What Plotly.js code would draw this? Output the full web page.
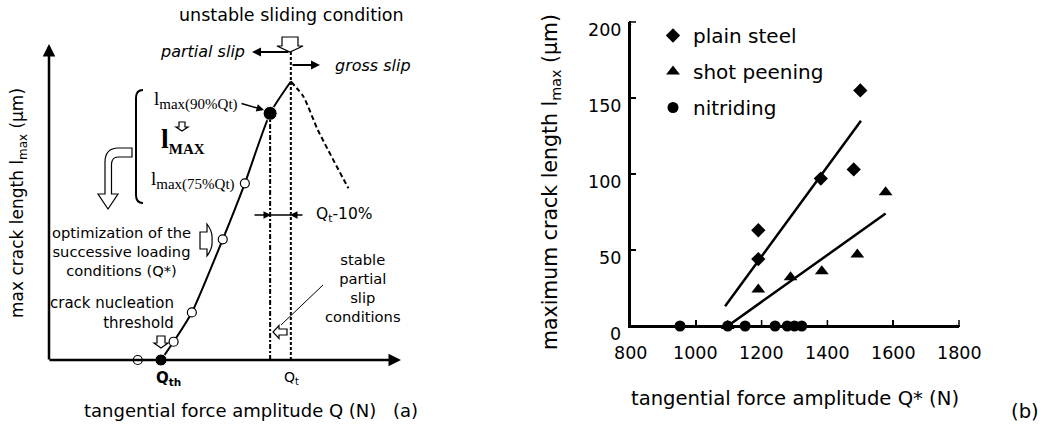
<!DOCTYPE html>
<html><head><meta charset="utf-8">
<script src="https://cdn.plot.ly/plotly-3.0.1.min.js"></script>
<style>html,body{margin:0;padding:0;background:#fff}#chart{width:1050px;height:425px}</style>
</head><body><div id="chart"></div>
<script>
// ---------- panel (b) data ----------
const steelQ = [1190, 1190, 1380, 1480, 1500];
const steelL = [63, 44, 97, 103, 155];
const peenQ = [1097, 1190, 1288, 1383, 1491, 1577];
const peenL = [0, 24, 32, 36, 47, 88];
const nitrQ = [952, 1097, 1150, 1241, 1278, 1300, 1322];
const nitrL = [0, 0, 0, 0, 0, 0, 0];
const steelFitQ = [1089, 1502];
const steelFitL = [13, 135];
const peenFitQ = [1097, 1577];
const peenFitL = [0, 74];
const xTicks = [800, 1000, 1200, 1400, 1600, 1800];
const yTicks = [0, 50, 100, 150, 200];
const seriesNames = ['plain steel', 'shot peening', 'nitriding'];

// ---------- panel (a) schematic data (normalised units) ----------
const curveQ = [31.9, 35.5, 40.7, 49.5, 55.8, 63.0, 68.9];
const curveL = [0, 5.8, 15.1, 38.3, 56.1, 78.3, 88.4];
const grossQ = [68.9, 72.5, 76.6, 85.3];
const grossL = [88.4, 83.6, 73.0, 54.5];
const openQ = [25.3, 35.5, 40.7, 49.5, 55.8];
const openL = [0, 5.8, 15.1, 38.3, 56.1];
const keyQ = [31.9, 63.0];
const keyL = [0, 78.3];
const Qt = 68.9, Q90 = 63.0;

// ---------- helpers (pixel -> paper) ----------
const W = 1050, H = 425;
const px = x => x / W, py = y => 1 - y / H;
const SANS = 'DejaVu Sans, Verdana, sans-serif';
const SERIF = 'Liberation Serif, Times New Roman, serif';

// panel (b) plot box in pixels
const BX0 = 630, BX1 = 959, BY0 = 326, BY1 = 22, TICKLEN = 6;
const xMin = xTicks[0], xMax = xTicks[xTicks.length - 1];
const yMin = yTicks[0], yMax = yTicks[yTicks.length - 1];
const xPix = v => BX0 + (v - xMin) / (xMax - xMin) * (BX1 - BX0);
const yPix = v => BY0 - (v - yMin) / (yMax - yMin) * (BY0 - BY1);

function T(text, x, y, size, o) {
  o = o || {};
  return Object.assign({
    text: text, x: px(x), y: py(y), xref: 'paper', yref: 'paper',
    showarrow: false, xanchor: 'center', yanchor: 'middle',
    font: {family: o.family || SANS, size: size, color: '#000'}
  }, o.extra || {});
}
function A(x0, y0, x1, y1, w, head, hs) {
  return {x: px(x1), y: py(y1), xref: 'paper', yref: 'paper',
    ax: x0 - x1, ay: y0 - y1, axref: 'pixel', ayref: 'pixel',
    text: '', showarrow: true, arrowhead: head === undefined ? 2 : head, arrowsize: hs || 1,
    arrowwidth: w || 1.8, arrowcolor: '#000', standoff: 0, startstandoff: 0};
}
function L(x0, y0, x1, y1, w, dash) {
  return {type: 'line', xref: 'paper', yref: 'paper',
    x0: px(x0), y0: py(y0), x1: px(x1), y1: py(y1),
    line: {color: '#000', width: w || 1.5, dash: dash || 'solid'}};
}
// filled bar (for the axis frame and ticks of panel b)
function R(x0, y0, x1, y1) {
  return {type: 'rect', xref: 'paper', yref: 'paper', x0: px(x0), y0: py(y0), x1: px(x1), y1: py(y1),
    fillcolor: '#000', line: {width: 0}};
}
function P(cmds, fill, w) {
  let s = '';
  cmds.forEach(c => {
    s += c[0];
    for (let i = 1; i < c.length; i += 2) s += ' ' + px(c[i]).toFixed(5) + ',' + py(c[i + 1]).toFixed(5);
    s += ' ';
  });
  return {type: 'path', xref: 'paper', yref: 'paper', path: s.trim(),
    fillcolor: fill || 'rgba(0,0,0,0)', line: {color: '#000', width: w || 1.2}};
}
function downArrow(cx, top, bottom, sw, hw, hh) {
  return P([['M', cx - sw / 2, top], ['L', cx + sw / 2, top], ['L', cx + sw / 2, bottom - hh],
    ['L', cx + hw / 2, bottom - hh], ['L', cx, bottom], ['L', cx - hw / 2, bottom - hh],
    ['L', cx - sw / 2, bottom - hh], ['Z']], '#fff', 1.2);
}
function leftArrow(tip, cy, right, sh, hh, hw) {
  return P([['M', right, cy - sh / 2], ['L', tip + hw, cy - sh / 2], ['L', tip + hw, cy - hh / 2],
    ['L', tip, cy], ['L', tip + hw, cy + hh / 2], ['L', tip + hw, cy + sh / 2],
    ['L', right, cy + sh / 2], ['Z']], '#fff', 1.2);
}

// ---------- traces ----------
const traces = [
  // panel (b)
  {x: steelFitQ, y: steelFitL, mode: 'lines', line: {color: '#000', width: 2.5}, showlegend: false, hoverinfo: 'skip', xaxis: 'x', yaxis: 'y'},
  {x: peenFitQ, y: peenFitL, mode: 'lines', line: {color: '#000', width: 2.5}, showlegend: false, hoverinfo: 'skip', xaxis: 'x', yaxis: 'y'},
  {x: steelQ, y: steelL, mode: 'markers', name: seriesNames[0], legendgroup: 'a',
    marker: {symbol: 'diamond', size: 11, color: '#000', opacity: 1}, cliponaxis: false, xaxis: 'x', yaxis: 'y'},
  {x: peenQ, y: peenL, mode: 'markers', name: seriesNames[1], legendgroup: 'b',
    marker: {symbol: 'triangle-up', size: 12, color: '#000', opacity: 1}, cliponaxis: false, xaxis: 'x', yaxis: 'y'},
  {x: nitrQ, y: nitrL, mode: 'markers', name: seriesNames[2], legendgroup: 'c',
    marker: {symbol: 'circle', size: 11, color: '#000', opacity: 1}, cliponaxis: false, xaxis: 'x', yaxis: 'y'},
  // panel (a)
  {x: curveQ, y: curveL, mode: 'lines', line: {color: '#000', width: 2, shape: 'spline', smoothing: 0.6},
    showlegend: false, hoverinfo: 'skip', cliponaxis: false, xaxis: 'x2', yaxis: 'y2'},
  {x: grossQ, y: grossL, mode: 'lines', line: {color: '#000', width: 2, dash: '5px,3px', shape: 'spline', smoothing: 0.6},
    showlegend: false, hoverinfo: 'skip', cliponaxis: false, xaxis: 'x2', yaxis: 'y2'},
  {x: openQ, y: openL, mode: 'markers', marker: {symbol: 'circle', size: 9, color: '#fff', opacity: 1, line: {color: '#000', width: 1.2}},
    showlegend: false, cliponaxis: false, xaxis: 'x2', yaxis: 'y2'},
  {x: keyQ, y: keyL, mode: 'markers', marker: {symbol: 'circle', size: [12, 14], color: '#000', opacity: 1},
    showlegend: false, cliponaxis: false, xaxis: 'x2', yaxis: 'y2'}
];

// ---------- shapes: panel (b) frame as filled bars ----------
const shapes = [
  R(xPix(xMin) - 1, yPix(yMin) - 1, xPix(xMax) + 1, yPix(yMin) + 1),
  R(xPix(xMin) - 1, yPix(yMax) - 1, xPix(xMin) + 1, yPix(yMin) + 1)
];
xTicks.forEach(v => shapes.push(R(xPix(v) - 0.75, yPix(yMin) - TICKLEN, xPix(v) + 0.75, yPix(yMin))));
yTicks.forEach(v => shapes.push(R(xPix(xMin), yPix(v) - 0.75, xPix(xMin) + TICKLEN, yPix(v) + 0.75)));
shapes.push(
  {type: 'line', xref: 'x2', yref: 'y2', x0: Q90, x1: Q90, y0: 0, y1: keyL[1], line: {color: '#000', width: 2, dash: '5px,2px,2px,2px'}},
  {type: 'line', xref: 'x2', yref: 'paper', x0: Qt, x1: Qt, y0: py(360), y1: py(52), line: {color: '#000', width: 2, dash: '3px,2px'}},
  L(270, 215, 291, 215, 1.5),
  L(323, 285, 281, 325, 1),
  P([['M', 143, 90], ['Q', 136, 90, 136, 98], ['L', 136, 195], ['Q', 136, 203, 143, 203]], null, 2),
  downArrow(290, 37, 52, 16, 26, 6),
  downArrow(182, 122, 131, 6, 12, 4),
  downArrow(161, 336, 348, 8, 14, 5),
  leftArrow(273, 332, 287, 6, 13, 6),
  P([['M', 132, 148], ['L', 117, 148], ['Q', 105, 149, 105, 162], ['L', 105, 194], ['L', 98, 194],
     ['L', 108, 209], ['L', 118, 194], ['L', 111.5, 194], ['L', 111.5, 164], ['Q', 112, 157, 118, 157],
     ['L', 132, 157], ['Z']], '#fff', 1.2),
  P([['M', 200, 232], ['L', 207, 232], ['L', 207, 224], ['Q', 213, 232, 212, 240], ['Q', 213, 248, 207, 256],
     ['L', 207, 249], ['L', 200, 249], ['Z']], '#fff', 1.2)
);

// ---------- annotations ----------
const sub = (t, s) => '<sub><span style="font-size:' + s + 'px">' + t + '</span></sub>';
const ann = [
  // panel (b) frame also as connectors with a tiny head (same place as the bars)
  A(xPix(xMin), yPix(yMin), xPix(xMax), yPix(yMin), 2, 2, 0.3),
  A(xPix(xMin), yPix(yMin), xPix(xMin), yPix(yMax), 2, 2, 0.3),
  // axes of panel (a)
  A(49, 361, 49, 44, 2.5),
  A(48, 360, 401, 360, 2.5),
  A(290, 52, 252, 52, 1.8),
  A(291, 65, 320, 65, 1.8),
  A(240, 103, 264, 110, 1.5),
  A(253, 215, 271, 215, 1.5),
  A(304, 215, 290, 215, 1.5),
  T('unstable sliding condition', 291, 15, 17.5),
  T('<i>partial slip</i>', 247, 52, 16, {extra: {xanchor: 'right'}}),
  T('<i>gross slip</i>', 333, 65, 16, {extra: {xanchor: 'left'}}),
  T('l' + sub('max(90%Qt)', 15), 152, 100, 19, {family: SERIF, extra: {xanchor: 'left'}}),
  T('<b>l' + sub('MAX', 15) + '</b>', 159, 140, 28, {family: SERIF, extra: {xanchor: 'left'}}),
  T('l' + sub('max(75%Qt)', 15), 149, 180, 19, {family: SERIF, extra: {xanchor: 'left'}}),
  T('optimization of the<br>successive loading<br>conditions (Q*)', 121, 252, 14.7),
  T('crack nucleation<br>threshold', 176, 313, 15, {extra: {xanchor: 'right', align: 'right'}}),
  T('stable<br>partial<br>slip<br>conditions', 363, 288, 14.7),
  T('Q<sub>t</sub>-10%', 314, 215, 15.5, {extra: {xanchor: 'left'}}),
  T('<b>Q<sub>th</sub></b>', 168, 378, 15),
  T('Q<sub>t</sub>', 291, 378, 14),
  T('tangential force amplitude Q (N)', 230, 410, 18),
  T('(a)', 405, 410, 18),
  T('max crack length l<sub>max</sub> (μm)', 18, 203, 17, {extra: {textangle: -90}}),
  // panel (b)
  T('maximum crack length l<sub>max</sub> (μm)', 551, 182, 20.5, {extra: {textangle: -90}}),
  T('tangential force amplitude Q* (N)', 795, 398, 19.6),
  T('(b)', 1025, 411, 19.6)
];
// tick labels of panel (b), from the tick arrays
yTicks.forEach(v => ann.push({text: String(v), x: px(623), xref: 'paper', y: v, yref: 'y', yshift: -8,
  xanchor: 'right', yanchor: 'middle', showarrow: false, font: {family: SANS, size: 17.5, color: '#000'}}));
xTicks.forEach(v => ann.push({text: String(v), x: v, xref: 'x', y: py(353), yref: 'paper',
  xanchor: 'center', yanchor: 'middle', showarrow: false, font: {family: SANS, size: 17.5, color: '#000'}}));

const layout = {
  width: W, height: H, margin: {l: 0, r: 0, t: 0, b: 0},
  paper_bgcolor: '#fff', plot_bgcolor: 'rgba(0,0,0,0)',
  font: {family: SANS, color: '#000'},
  showlegend: true,
  legend: {x: px(653), y: py(16), xanchor: 'left', yanchor: 'top', bgcolor: 'rgba(0,0,0,0)',
    font: {family: SANS, size: 20, color: '#000'}, tracegroupgap: 7},
  xaxis: {domain: [px(BX0), px(BX1)], range: [xMin, xMax], tickvals: xTicks, ticks: 'inside', ticklen: TICKLEN,
    tickwidth: 1.5, tickcolor: '#000', showline: true, linewidth: 2, linecolor: '#000',
    showgrid: false, zeroline: false, showticklabels: false, anchor: 'y', fixedrange: true},
  yaxis: {domain: [py(BY0), py(BY1)], range: [yMin, yMax], tickvals: yTicks, ticks: 'inside', ticklen: TICKLEN,
    tickwidth: 1.5, tickcolor: '#000', showline: true, linewidth: 2, linecolor: '#000',
    showgrid: false, zeroline: false, showticklabels: false, anchor: 'x', fixedrange: true},
  xaxis2: {domain: [px(49), px(400)], range: [0, 100], visible: false, anchor: 'y2', fixedrange: true},
  yaxis2: {domain: [py(360), py(45)], range: [0, 100], visible: false, anchor: 'x2', fixedrange: true},
  shapes: shapes,
  annotations: ann
};

Plotly.newPlot('chart', traces, layout, {displayModeBar: false, staticPlot: true});
</script>
</body></html>
